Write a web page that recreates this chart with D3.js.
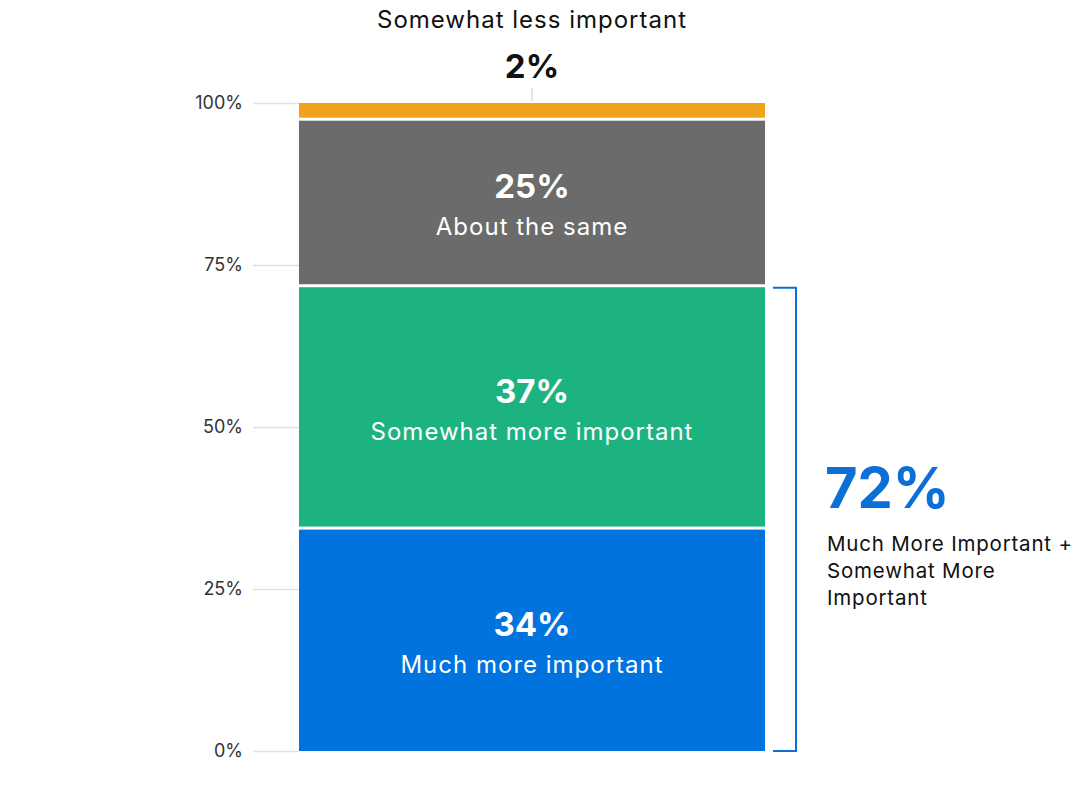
<!DOCTYPE html>
<html>
<head>
<meta charset="utf-8">
<script src="https://cdn.jsdelivr.net/npm/d3@7"></script>
<style>
  body { margin: 0; background: #fff; }
  svg { font-family: Inter, "Noto Sans", sans-serif; }
</style>
</head>
<body>
<svg width="1076" height="811"></svg>
<script>
"use strict";

// Data.

var categories = ["Much more important", "Somewhat more important", "About the same", "Somewhat less important"];
var values = [34.4, 37.4, 25.7, 2.5];
var valueLabels = ["34%", "37%", "25%", "2%"];
var colors = ["#0073de", "#1db381", "#6b6b6b", "#f0a21a"];
var tickValues = [0, 25, 50, 75, 100];
var bracketLabel = "72%";
var bracketText = ["Much More Important +", "Somewhat More", "Important"];

// SVG and scales.

var svg = d3.select("svg");
var y = d3.scaleLinear().domain([0, 100]).range([751, 103]);
var BarLeft = 299, BarRight = 765, Gap = 3;
var cx = (BarLeft + BarRight) / 2;

// Gridlines and tick labels.

var yAxis = d3.axisLeft(y).tickValues(tickValues)
    .tickFormat(function(d){ return d + "%"; })
    .tickSize(BarLeft - 253).tickPadding(10);

var ax = svg.append("g").attr("transform", "translate(" + BarLeft + ",0)").call(yAxis);
ax.select(".domain").remove();
ax.selectAll("line").attr("stroke", "#e2e2e2").attr("stroke-width", 1.5);
ax.selectAll("text").attr("fill", "#333").style("font-size", "18px")
    .style("font-family", "Inter, sans-serif");

// Stacked segments.

var segs = [];
var acc = 0;
for (var i = 0; i < values.length; i++){
    segs.push({ "y0": acc, "y1": acc + values[i], "i": i });
    acc += values[i];
}

svg.selectAll("rect.seg")
    .data(segs)
    .enter()
    .append("rect")
        .attr("class", "seg")
        .attr("x", BarLeft)
        .attr("width", BarRight - BarLeft)
        .attr("y", function(d){ return y(d.y1) + (d.i === segs.length - 1 ? 0 : Gap / 2); })
        .attr("height", function(d){
            var h = y(d.y0) - y(d.y1);
            if (d.i > 0) h -= Gap / 2;
            if (d.i < segs.length - 1) h -= Gap / 2;
            return h;
        })
        .attr("fill", function(d){ return colors[d.i]; });

// Labels inside the bigger segments.

var inside = segs.slice(0, 3);
var lab = svg.selectAll("g.lab")
    .data(inside)
    .enter()
    .append("g")
        .attr("transform", function(d){ return "translate(" + cx + "," + y((d.y0 + d.y1) / 2) + ")"; });

lab.append("text")
    .attr("text-anchor", "middle")
    .attr("y", -4)
    .attr("fill", "#fff")
    .style("font-size", "33px").style("font-weight", 700)
    .text(function(d){ return valueLabels[d.i]; });

lab.append("text")
    .attr("text-anchor", "middle")
    .attr("y", 33)
    .attr("fill", "#fff")
    .style("font-size", "24px").style("letter-spacing", "1px")
    .text(function(d){ return categories[d.i]; });

// Small top segment label, outside the bar.

var topSeg = segs[3];
svg.append("line")
    .attr("x1", cx).attr("x2", cx)
    .attr("y1", 88).attr("y2", y(topSeg.y1) - 2)
    .attr("stroke", "#ddd").attr("stroke-width", 1.5);

svg.append("text")
    .attr("x", cx).attr("y", 78)
    .attr("text-anchor", "middle")
    .attr("fill", "#111")
    .style("font-size", "33px").style("font-weight", 700)
    .text(valueLabels[3]);

svg.append("text")
    .attr("x", cx).attr("y", 28)
    .attr("text-anchor", "middle")
    .attr("fill", "#111")
    .style("font-size", "24px").style("letter-spacing", "1px")
    .text(categories[3]);

// Bracket for the top-two-box total.

var bx = 796, bTop = y(segs[1].y1) + 2, bBot = y(0);
svg.append("path")
    .attr("d", "M773," + bTop + "H" + bx + "V" + bBot + "H773")
    .attr("fill", "none")
    .attr("stroke", "#0b6fd6")
    .attr("stroke-width", 2);

svg.append("text")
    .attr("x", 825).attr("y", 508)
    .attr("fill", "#0b6fd6")
    .style("font-size", "56px").style("font-weight", 700)
    .text(bracketLabel);

svg.selectAll("text.br")
    .data(bracketText)
    .enter()
    .append("text")
        .attr("class", "br")
        .attr("x", 827)
        .attr("y", function(d, i){ return 551 + i * 27; })
        .attr("fill", "#111")
        .style("font-size", "20.5px").style("letter-spacing", "0.8px")
        .text(function(d){ return d; });
</script>
</body>
</html>
